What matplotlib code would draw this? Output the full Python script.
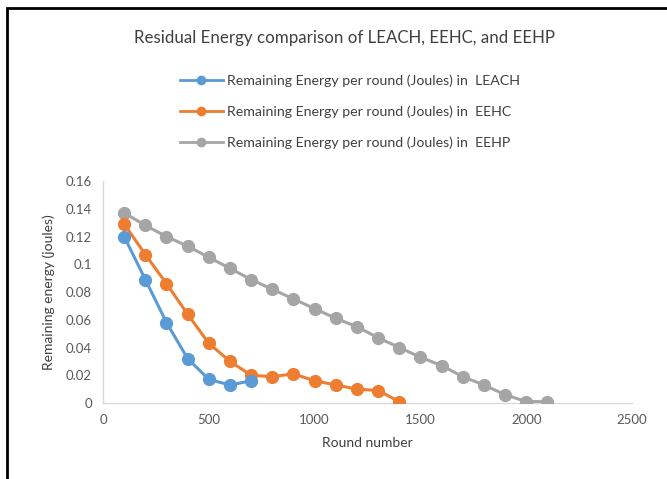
import matplotlib
matplotlib.use("Agg")
import matplotlib.pyplot as plt
from matplotlib.ticker import FuncFormatter, MultipleLocator
from matplotlib.patches import Rectangle
from matplotlib.lines import Line2D

plt.rcParams['font.family'] = ['Lato', 'DejaVu Sans']

rounds_leach = [100, 200, 300, 400, 500, 600, 700]
energy_leach = [0.120, 0.089, 0.058, 0.032, 0.017, 0.013, 0.016]

rounds_eehc = [100, 200, 300, 400, 500, 600, 700, 800, 900, 1000, 1100, 1200, 1300, 1400]
energy_eehc = [0.129, 0.107, 0.086, 0.064, 0.043, 0.030, 0.020, 0.019, 0.021, 0.016, 0.013, 0.010, 0.009, 0.001]

rounds_eehp = [100, 200, 300, 400, 500, 600, 700, 800, 900, 1000, 1100, 1200, 1300, 1400,
               1500, 1600, 1700, 1800, 1900, 2000, 2100]
energy_eehp = [0.137, 0.128, 0.120, 0.113, 0.105, 0.097, 0.089, 0.082, 0.075, 0.068, 0.061,
               0.055, 0.047, 0.040, 0.033, 0.027, 0.019, 0.013, 0.006, 0.001, 0.001]

labels = ["Remaining Energy per round (Joules) in  LEACH",
          "Remaining Energy per round (Joules) in  EEHC",
          "Remaining Energy per round (Joules) in  EEHP"]
colors = ["#5B9BD5", "#ED7D31", "#A5A5A5"]

fig = plt.figure(figsize=(6.67, 4.79), dpi=100)
ax = fig.add_axes([103/667, 1-403/479, 529/667, 222/479])

series = [(rounds_leach, energy_leach), (rounds_eehc, energy_eehc), (rounds_eehp, energy_eehp)]
zorders = [5, 4, 3]
for (x, y), lab, c, z in zip(series, labels, colors, zorders):
    ax.plot(x, y, color=c, lw=2.2, marker='o', markersize=8.5, label=lab, zorder=z,
            solid_capstyle='round')

ax.set_xlim(0, 2500)
ax.set_ylim(0, 0.16)
ax.xaxis.set_major_locator(MultipleLocator(500))
ax.yaxis.set_major_locator(MultipleLocator(0.02))
ax.yaxis.set_major_formatter(FuncFormatter(lambda v, p: ('%.2f' % v).rstrip('0').rstrip('.') if v != 0 else '0'))
ax.tick_params(length=0, labelsize=9.5, colors='#595959', pad=8)
for s in ['top', 'right']:
    ax.spines[s].set_visible(False)
for s in ['left', 'bottom']:
    ax.spines[s].set_color('#D9D9D9')
    ax.spines[s].set_linewidth(1.0)

ax.set_xlabel("Round number", fontsize=10, color='#404040', labelpad=8)
ax.set_ylabel("Remaining energy (joules)", fontsize=10, color='#404040', labelpad=8)

fig.text(344/667, 1-38/479, "Residual Energy comparison of LEACH, EEHC, and EEHP",
         ha='center', va='center', fontsize=12.2, color='#404040')

handles = [Line2D([], [], color=c, lw=2, marker='o', markersize=6) for c in colors]
fig.legend(handles, labels, loc='center', bbox_to_anchor=(350/667, 1-112/479),
           frameon=False, fontsize=10.2, labelspacing=1.3, handlelength=3.0,
           handletextpad=0.3, labelcolor='#404040')

fig.patches.append(Rectangle((7/667, -0.1), 1.2, 1 - 8/479 + 0.1, transform=fig.transFigure,
                             fill=False, edgecolor='black', linewidth=2, zorder=10))

fig.savefig("out.png", dpi=100)
